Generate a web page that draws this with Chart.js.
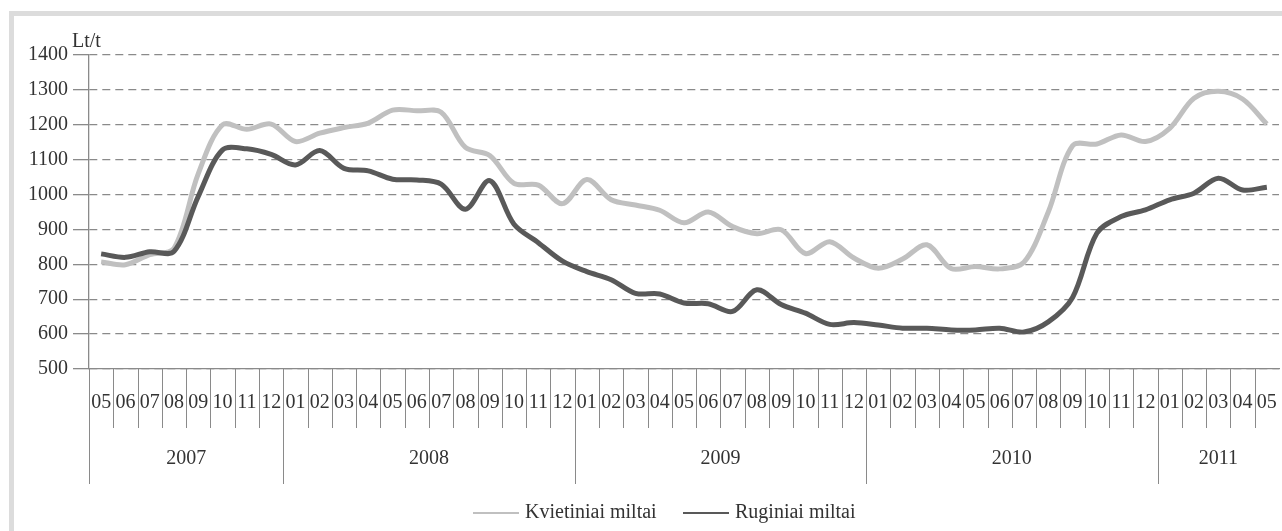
<!DOCTYPE html>
<html>
<head>
<meta charset="utf-8">
<script src="https://cdn.jsdelivr.net/npm/chart.js@4.4.1/dist/chart.umd.min.js"></script>
<style>
  html, body { margin: 0; padding: 0; background: #fff; overflow: hidden; }
  #frame { position: absolute; left: 9px; top: 11px; width: 1400px; height: 700px;
           border-left: 5px solid #dcdcdc; border-top: 5px solid #dcdcdc; }
  #chart { position: absolute; left: 0; top: 0; }
</style>
</head>
<body>
<div id="frame"></div>
<canvas id="chart" width="1282" height="531"></canvas>
<script>
// months 2007-05 .. 2011-05
const months = ['05','06','07','08','09','10','11','12',
  '01','02','03','04','05','06','07','08','09','10','11','12',
  '01','02','03','04','05','06','07','08','09','10','11','12',
  '01','02','03','04','05','06','07','08','09','10','11','12',
  '01','02','03','04','05'];
const years = ['2007', '2008', '2009', '2010', '2011'];
const yearStarts = [0, 8, 20, 32, 44];

const wheatLabel = 'Kvietiniai miltai';
const ryeLabel = 'Ruginiai miltai';

const wheat = [807, 799, 828, 846, 1060, 1200, 1187, 1202,
  1152, 1176, 1192, 1205, 1242, 1240, 1236, 1135, 1112, 1032, 1027, 974,
  1043, 985, 970, 955, 919, 950, 908, 888, 899, 831, 865, 818,
  789, 815, 856, 788, 794, 787, 806, 950, 1140, 1145, 1171, 1152,
  1190, 1276, 1296, 1274, 1202];
const rye = [830, 820, 836, 837, 995, 1128, 1131, 1115,
  1085, 1126, 1075, 1068, 1044, 1042, 1030, 958, 1040, 915, 862, 809,
  779, 756, 717, 715, 689, 687, 665, 727, 685, 660, 628, 633,
  626, 617, 617, 612, 612, 617, 606, 635, 705, 889, 937, 956,
  985, 1004, 1047, 1013, 1021];

const yMin = 500, yMax = 1400, yStep = 100;
const unitLabel = 'Lt/t';

const FONT = 'Liberation Serif, Times New Roman, serif';
const GRID = '#8a8a8a';
const TEXT = '#333333';

const axisExtras = {
  id: 'axisExtras',
  afterDraw(chart) {
    const ctx = chart.ctx;
    const xs = chart.scales.x;
    const half = (xs.getPixelForValue(1) - xs.getPixelForValue(0)) / 2;
    ctx.save();
    ctx.strokeStyle = GRID;
    ctx.lineWidth = 1;
    for (let i = 0; i < months.length; i++) {
      const bx = Math.round(xs.getPixelForValue(i) - half) + 0.5;
      const len = yearStarts.includes(i) ? 115 : 59;
      ctx.beginPath();
      ctx.moveTo(bx, xs.top);
      ctx.lineTo(bx, xs.top + len);
      ctx.stroke();
    }
    // year row
    ctx.fillStyle = TEXT;
    ctx.font = '20px ' + FONT;
    ctx.textAlign = 'center';
    ctx.textBaseline = 'middle';
    years.forEach((yr, k) => {
      const a = yearStarts[k];
      const b = k + 1 < yearStarts.length ? yearStarts[k + 1] - 1 : months.length - 1;
      const cx = (xs.getPixelForValue(a) + xs.getPixelForValue(b)) / 2;
      ctx.fillText(yr, cx, xs.top + 90);
    });
    // unit
    ctx.textAlign = 'left';
    ctx.textBaseline = 'alphabetic';
    ctx.fillText(unitLabel, 72, 47);
    // legend
    const ly = 513;
    const items = [
      { label: wheatLabel, color: '#c0c0c0', x: 473 },
      { label: ryeLabel, color: '#595959', x: 683 }
    ];
    items.forEach(it => {
      ctx.strokeStyle = it.color;
      ctx.lineWidth = 2;
      ctx.beginPath();
      ctx.moveTo(it.x, ly);
      ctx.lineTo(it.x + 46, ly);
      ctx.stroke();
      ctx.fillStyle = TEXT;
      ctx.textBaseline = 'middle';
      ctx.fillText(it.label, it.x + 52, ly);
    });
    ctx.restore();
  }
};

new Chart(document.getElementById('chart'), {
  type: 'line',
  data: {
    labels: months,
    datasets: [
      { label: wheatLabel, data: wheat, borderColor: '#c0c0c0', borderWidth: 5,
        pointRadius: 0, tension: 0.33, order: 2 },
      { label: ryeLabel, data: rye, borderColor: '#595959', borderWidth: 5,
        pointRadius: 0, tension: 0.33, order: 1 }
    ]
  },
  options: {
    responsive: false,
    animation: false,
    layout: { padding: { top: 55, right: 3, left: 0, bottom: 0 } },
    plugins: { legend: { display: false }, tooltip: { enabled: false } },
    scales: {
      x: {
        offset: true,
        grid: { display: false, drawTicks: false },
        border: { display: true, color: GRID, width: 1.3 },
        ticks: { autoSkip: false, maxRotation: 0, minRotation: 0, padding: 22,
                 color: TEXT, font: { family: FONT, size: 20 } },
        afterFit(s) { s.height = 162; s.paddingLeft = 0; s.paddingRight = 0; }
      },
      y: {
        min: yMin, max: yMax,
        grid: { color: GRID, lineWidth: 1.3, tickLength: 16, borderDash: [8, 5], tickBorderDash: [] },
        border: { display: true, color: GRID, width: 1.3, dash: [8, 5] },
        ticks: { stepSize: yStep, padding: 5, color: TEXT, font: { family: FONT, size: 20 },
                 callback: v => String(v) },
        afterFit(s) { s.width = 89; }
      }
    }
  },
  plugins: [axisExtras]
});
</script>
</body>
</html>
